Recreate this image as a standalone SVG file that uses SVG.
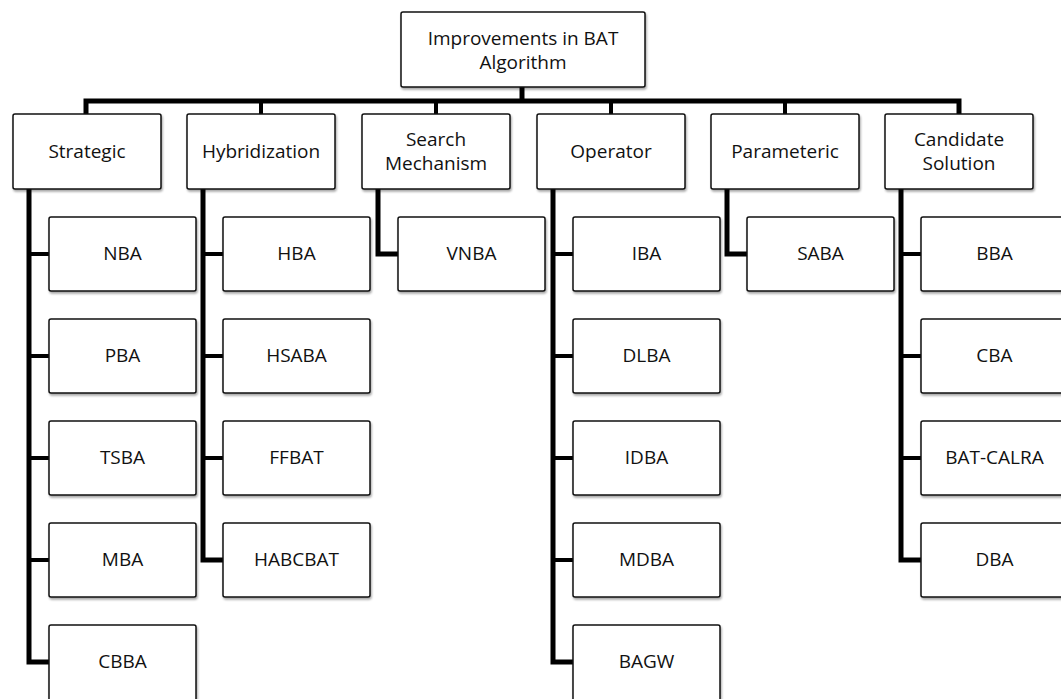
<svg xmlns="http://www.w3.org/2000/svg" width="1061" height="699" viewBox="0 0 1061 699">
<defs>
<filter id="sh" x="-10%" y="-10%" width="125%" height="135%">
<feDropShadow dx="1" dy="2" stdDeviation="1.2" flood-color="#000" flood-opacity="0.35"/>
</filter>
<style>
.box{fill:#fff;stroke:#111;stroke-width:1.5;filter:url(#sh)}
.t{font-family:"Open Sans","Liberation Sans",sans-serif;font-size:19px;fill:#111;text-anchor:middle}
.c{fill:none;stroke:#000;stroke-width:5;stroke-linejoin:miter}
.s{fill:none;stroke:#000;stroke-width:4}
</style>
</defs>
<rect width="1061" height="699" fill="#fff"/>
<g id="connectors">
<path class="c" d="M522,87 V101"/>
<path class="c" d="M86,114 V101 H959 V114"/>
<path class="s" d="M261,101 V114 M436,101 V114 M611,101 V114 M785,101 V114"/>
<path class="c" d="M29,189 V662 H49"/>
<path class="s" d="M29,254 H49 M29,356 H49 M29,458 H49 M29,560 H49"/>
<path class="c" d="M203,189 V560 H223"/>
<path class="s" d="M203,254 H223 M203,356 H223 M203,458 H223"/>
<path class="c" d="M378,189 V254 H398"/>
<path class="c" d="M553,189 V662 H573"/>
<path class="s" d="M553,254 H573 M553,356 H573 M553,458 H573 M553,560 H573"/>
<path class="c" d="M727,189 V254 H747"/>
<path class="c" d="M901,189 V560 H921"/>
<path class="s" d="M901,254 H921 M901,356 H921 M901,458 H921"/>
</g>
<g id="root"><rect class="box" x="401" y="12" width="244" height="75" rx="2"/><text class="t" x="523" y="45">Improvements in BAT</text><text class="t" x="523" y="69">Algorithm</text></g>
<g id="strategic"><rect class="box" x="13" y="114" width="148" height="75" rx="2"/><text class="t" x="87" y="158">Strategic</text></g>
<g id="hybridization"><rect class="box" x="187" y="114" width="148" height="75" rx="2"/><text class="t" x="261" y="158">Hybridization</text></g>
<g id="search"><rect class="box" x="362" y="114" width="148" height="75" rx="2"/><text class="t" x="436" y="146">Search</text><text class="t" x="436" y="170">Mechanism</text></g>
<g id="operator"><rect class="box" x="537" y="114" width="148" height="75" rx="2"/><text class="t" x="611" y="158">Operator</text></g>
<g id="parameteric"><rect class="box" x="711" y="114" width="148" height="75" rx="2"/><text class="t" x="785" y="158">Parameteric</text></g>
<g id="candidate"><rect class="box" x="885" y="114" width="148" height="75" rx="2"/><text class="t" x="959" y="146">Candidate</text><text class="t" x="959" y="170">Solution</text></g>
<g id="nba"><rect class="box" x="49" y="217" width="147" height="74" rx="2"/><text class="t" x="122.5" y="260">NBA</text></g>
<g id="pba"><rect class="box" x="49" y="319" width="147" height="74" rx="2"/><text class="t" x="122.5" y="362">PBA</text></g>
<g id="tsba"><rect class="box" x="49" y="421" width="147" height="74" rx="2"/><text class="t" x="122.5" y="464">TSBA</text></g>
<g id="mba"><rect class="box" x="49" y="523" width="147" height="74" rx="2"/><text class="t" x="122.5" y="566">MBA</text></g>
<g id="cbba"><rect class="box" x="49" y="625" width="147" height="80" rx="2"/><text class="t" x="122.5" y="668">CBBA</text></g>
<g id="hba"><rect class="box" x="223" y="217" width="147" height="74" rx="2"/><text class="t" x="296.5" y="260">HBA</text></g>
<g id="hsaba"><rect class="box" x="223" y="319" width="147" height="74" rx="2"/><text class="t" x="296.5" y="362">HSABA</text></g>
<g id="ffbat"><rect class="box" x="223" y="421" width="147" height="74" rx="2"/><text class="t" x="296.5" y="464">FFBAT</text></g>
<g id="habcbat"><rect class="box" x="223" y="523" width="147" height="74" rx="2"/><text class="t" x="296.5" y="566">HABCBAT</text></g>
<g id="vnba"><rect class="box" x="398" y="217" width="147" height="74" rx="2"/><text class="t" x="471.5" y="260">VNBA</text></g>
<g id="iba"><rect class="box" x="573" y="217" width="147" height="74" rx="2"/><text class="t" x="646.5" y="260">IBA</text></g>
<g id="dlba"><rect class="box" x="573" y="319" width="147" height="74" rx="2"/><text class="t" x="646.5" y="362">DLBA</text></g>
<g id="idba"><rect class="box" x="573" y="421" width="147" height="74" rx="2"/><text class="t" x="646.5" y="464">IDBA</text></g>
<g id="mdba"><rect class="box" x="573" y="523" width="147" height="74" rx="2"/><text class="t" x="646.5" y="566">MDBA</text></g>
<g id="bagw"><rect class="box" x="573" y="625" width="147" height="80" rx="2"/><text class="t" x="646.5" y="668">BAGW</text></g>
<g id="saba"><rect class="box" x="747" y="217" width="147" height="74" rx="2"/><text class="t" x="820.5" y="260">SABA</text></g>
<g id="bba"><rect class="box" x="921" y="217" width="147" height="74" rx="2"/><text class="t" x="994.5" y="260">BBA</text></g>
<g id="cba"><rect class="box" x="921" y="319" width="147" height="74" rx="2"/><text class="t" x="994.5" y="362">CBA</text></g>
<g id="batcalra"><rect class="box" x="921" y="421" width="147" height="74" rx="2"/><text class="t" x="994.5" y="464">BAT-CALRA</text></g>
<g id="dba"><rect class="box" x="921" y="523" width="147" height="74" rx="2"/><text class="t" x="994.5" y="566">DBA</text></g>
</svg>
